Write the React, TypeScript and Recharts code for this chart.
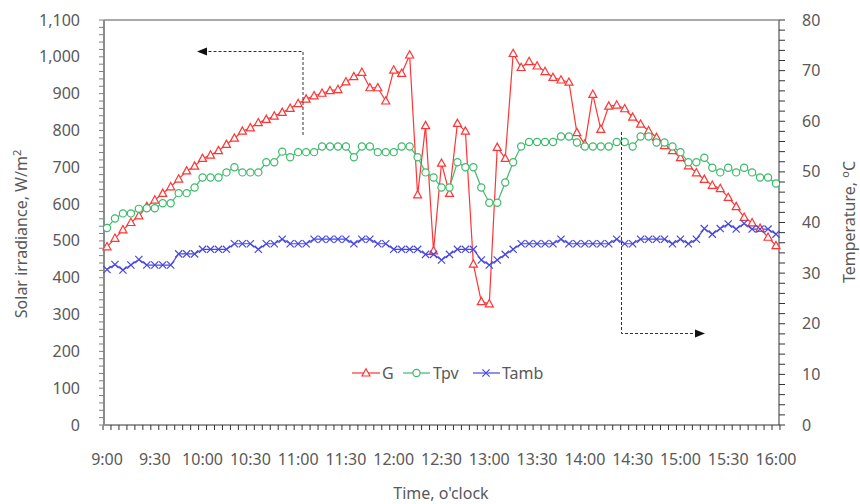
import React from 'react';
import { LineChart, Line, XAxis, YAxis } from 'recharts';

const times = [
  '9:00', '9:05', '9:10', '9:15', '9:20', '9:25', '9:30', '9:35', '9:40', '9:45', '9:50', '9:55',
  '10:00', '10:05', '10:10', '10:15', '10:20', '10:25', '10:30', '10:35', '10:40', '10:45', '10:50', '10:55',
  '11:00', '11:05', '11:10', '11:15', '11:20', '11:25', '11:30', '11:35', '11:40', '11:45', '11:50', '11:55',
  '12:00', '12:05', '12:10', '12:15', '12:20', '12:25', '12:30', '12:35', '12:40', '12:45', '12:50', '12:55',
  '13:00', '13:05', '13:10', '13:15', '13:20', '13:25', '13:30', '13:35', '13:40', '13:45', '13:50', '13:55',
  '14:00', '14:05', '14:10', '14:15', '14:20', '14:25', '14:30', '14:35', '14:40', '14:45', '14:50', '14:55',
  '15:00', '15:05', '15:10', '15:15', '15:20', '15:25', '15:30', '15:35', '15:40', '15:45', '15:50', '15:55',
  '16:00',
];

const gValues = [
  484, 507, 530, 550, 568, 593, 611, 629, 647, 668, 690, 703,
  724, 733, 745, 762, 779, 798, 807, 821, 830, 839, 849, 860,
  873, 885, 894, 901, 908, 911, 932, 946, 958, 916, 916, 880,
  964, 955, 1005, 625, 813, 473, 711, 629, 819, 798, 437, 335,
  329, 754, 724, 1009, 971, 987, 975, 960, 944, 937, 931, 794,
  763, 898, 803, 866, 869, 859, 836, 817, 799, 781, 759, 745,
  726, 704, 685, 667, 651, 642, 618, 593, 564, 549, 534, 510,
  487,
];

const tpvValues = [
  38.9, 40.8, 41.8, 41.8, 42.7, 42.8, 42.8, 43.8, 43.8, 45.8, 45.8, 46.9,
  48.9, 48.9, 48.9, 49.9, 50.9, 49.9, 49.9, 49.9, 51.9, 51.9, 54.0, 52.9,
  53.9, 53.9, 53.9, 55.0, 55.0, 55.0, 55.0, 52.9, 55.0, 55.0, 53.9, 53.9,
  53.9, 55.0, 55.0, 52.9, 49.9, 48.9, 46.9, 46.9, 51.9, 50.9, 50.9, 46.9,
  43.9, 43.9, 47.9, 51.9, 55.0, 55.9, 55.9, 55.9, 55.9, 57.0, 57.0, 55.8,
  55.0, 55.0, 55.0, 55.0, 55.9, 55.9, 55.0, 57.0, 57.0, 55.8, 55.8, 55.0,
  53.9, 51.9, 51.9, 52.8, 50.8, 49.9, 50.8, 49.9, 50.8, 49.9, 48.9, 48.9,
  47.7,
];

const tambValues = [
  30.7, 31.7, 30.6, 31.6, 32.7, 31.6, 31.6, 31.6, 31.6, 33.8, 33.8, 33.8,
  34.7, 34.7, 34.7, 34.7, 35.8, 35.8, 35.8, 34.7, 35.8, 35.8, 36.7, 35.8,
  35.8, 35.8, 36.7, 36.7, 36.7, 36.7, 36.7, 35.8, 36.7, 36.7, 35.8, 35.8,
  34.7, 34.7, 34.7, 34.7, 33.7, 33.7, 32.6, 33.7, 34.7, 34.7, 34.7, 32.6,
  31.6, 32.6, 33.7, 34.7, 35.8, 35.8, 35.8, 35.8, 35.8, 36.7, 35.8, 35.8,
  35.8, 35.8, 35.8, 35.8, 36.7, 35.8, 35.8, 36.7, 36.7, 36.7, 36.7, 35.8,
  36.7, 35.8, 36.7, 38.8, 37.7, 38.8, 39.7, 38.7, 39.8, 38.7, 38.7, 38.7,
  37.7,
];

const leftMajorTicks = [0, 100, 200, 300, 400, 500, 600, 700, 800, 900, 1000, 1100];
const rightMajorTicks = [0, 10, 20, 30, 40, 50, 60, 70, 80];
const xLabelEvery = 6;

const leftAllTicks = Array.from({ length: 56 }, (_, i) => i * 20);
const rightAllTicks = Array.from({ length: 41 }, (_, i) => i * 2);

const data = times.map((t, i) => ({ time: t, G: gValues[i], Tpv: tpvValues[i], Tamb: tambValues[i] }));

const W = 860;
const H = 504;
const PLOT_LEFT = 104;
const PLOT_RIGHT = 779;
const PLOT_TOP = 20;
const PLOT_BOTTOM = 425;

const G_COLOR = '#FF3535';
const TPV_COLOR = '#3DBB6C';
const TAMB_COLOR = '#4848E0';
const TEXT = '#595959';
const FONT = '"Noto Sans", sans-serif';

const triangle = (cx: number, cy: number, color: string, key: string) => (
  <polygon
    key={key}
    points={`${cx},${cy - 4.3} ${cx - 4},${cy + 3} ${cx + 4},${cy + 3}`}
    fill="#fff"
    stroke={color}
    strokeWidth={1.2}
  />
);
const circle = (cx: number, cy: number, color: string, key: string) => (
  <circle key={key} cx={cx} cy={cy} r={3.6} fill="#fff" stroke={color} strokeWidth={1.2} />
);
const cross = (cx: number, cy: number, color: string, key: string) => (
  <path key={key} d={`M${cx - 3.6},${cy - 3.6}L${cx + 3.6},${cy + 3.6}M${cx - 3.6},${cy + 3.6}L${cx + 3.6},${cy - 3.6}`} stroke={color} strokeWidth={1.2} fill="none" />
);

const GDot = (p: any) => (p.cx == null ? <g key={`g${p.index}`} /> : triangle(p.cx, p.cy, G_COLOR, `g${p.index}`));
const TpvDot = (p: any) => (p.cx == null ? <g key={`t${p.index}`} /> : circle(p.cx, p.cy, TPV_COLOR, `t${p.index}`));
const TambDot = (p: any) => (p.cx == null ? <g key={`a${p.index}`} /> : cross(p.cx, p.cy, TAMB_COLOR, `a${p.index}`));

const LeftTick = (p: any) => {
  const v = p.payload.value;
  const y = p.y;
  const major = v % 100 === 0;
  return (
    <g>
      <line x1={PLOT_LEFT - 5} x2={PLOT_LEFT} y1={y} y2={y} stroke="#7f7f7f" strokeWidth={1} />
      {major && (
        <text x={80} y={y + 5.5} textAnchor="end" fill={TEXT} fontSize={16} fontFamily={FONT}>
          {v.toLocaleString('en-US')}
        </text>
      )}
    </g>
  );
};

const RightTick = (p: any) => {
  const v = p.payload.value;
  const y = p.y;
  const major = rightMajorTicks.includes(v);
  return (
    <g>
      <line x1={PLOT_RIGHT} x2={PLOT_RIGHT + 6} y1={y} y2={y} stroke="#333" strokeWidth={1} />
      {major && (
        <text x={802} y={y + 5.5} textAnchor="start" fill={TEXT} fontSize={16} fontFamily={FONT}>
          {v}
        </text>
      )}
    </g>
  );
};

const XTick = (p: any) => {
  const idx = times.indexOf(p.payload.value);
  const x = p.x;
  const half = 3.98;
  return (
    <g>
      <line x1={x - half} x2={x - half} y1={PLOT_BOTTOM} y2={PLOT_BOTTOM + 5} stroke="#333" strokeWidth={1} />
      {idx === times.length - 1 && (
        <line x1={x + half} x2={x + half} y1={PLOT_BOTTOM} y2={PLOT_BOTTOM + 5} stroke="#333" strokeWidth={1} />
      )}
      {idx % xLabelEvery === 0 && (
        <text x={x} y={465} textAnchor="middle" fill={TEXT} fontSize={16} fontFamily={FONT}>
          {p.payload.value}
        </text>
      )}
    </g>
  );
};

const Overlay = () => (
  <svg width={W} height={H} style={{ position: 'absolute', left: 0, top: 0, pointerEvents: 'none' }}>
    <line x1={PLOT_LEFT} x2={PLOT_RIGHT} y1={PLOT_TOP} y2={PLOT_TOP} stroke="#8c8c8c" strokeWidth={1.5} />
    {/* annotation arrows */}
    <path d="M303,135 L303,51.5 L206,51.5" fill="none" stroke="#333" strokeWidth={1} strokeDasharray="3,2" />
    <polygon points="197,51.5 207,47.5 207,55.5" fill="#111" />
    <path d="M621.5,132 L621.5,333.5 L696,333.5" fill="none" stroke="#333" strokeWidth={1} strokeDasharray="3,2" />
    <polygon points="705,333.5 695,329.5 695,337.5" fill="#111" />
    {/* axis titles */}
    <text x={27} y={234} transform="rotate(-90 27 234)" textAnchor="middle" fill={TEXT} fontSize={16} fontFamily={FONT}>
      Solar irradiance, W/m<tspan dy={-6} fontSize={11}>2</tspan>
    </text>
    <text x={855} y={222} transform="rotate(-90 855 222)" textAnchor="middle" fill={TEXT} fontSize={16} fontFamily={FONT}>
      Temperature, <tspan dy={-6} fontSize={11}>o</tspan><tspan dy={6}>C</tspan>
    </text>
    <text x={441} y={499} textAnchor="middle" fill={TEXT} fontSize={16} fontFamily={FONT}>
      Time, o'clock
    </text>
    {/* legend */}
    <line x1={352} x2={380} y1={373} y2={373} stroke={G_COLOR} strokeWidth={1.2} />
    {triangle(366, 373, G_COLOR, 'lg')}
    <text x={382} y={379} fill={TEXT} fontSize={16} fontFamily={FONT}>G</text>
    <line x1={403} x2={430} y1={373} y2={373} stroke={TPV_COLOR} strokeWidth={1.2} />
    {circle(416.5, 373, TPV_COLOR, 'lt')}
    <text x={433} y={379} fill={TEXT} fontSize={16} fontFamily={FONT}>Tpv</text>
    <line x1={473} x2={500} y1={373} y2={373} stroke={TAMB_COLOR} strokeWidth={1.2} />
    {cross(486, 373, TAMB_COLOR, 'la')}
    <text x={502} y={379} fill={TEXT} fontSize={16} fontFamily={FONT}>Tamb</text>
  </svg>
);

export default function App() {
  return (
    <div style={{ position: 'absolute', left: 0, top: 0, width: W, height: H, background: '#fff' }}>
      <LineChart width={W} height={H} data={data} margin={{ top: PLOT_TOP, right: 0, bottom: 0, left: 0 }}>
        <XAxis
          dataKey="time"
          type="category"
          interval={0}
          height={H - PLOT_BOTTOM}
          padding={{ left: 3, right: 3 }}
          axisLine={{ stroke: '#333', strokeWidth: 1 }}
          tickLine={false}
          tickSize={0}
          tick={<XTick />}
        />
        <YAxis
          yAxisId="left"
          orientation="left"
          width={PLOT_LEFT}
          domain={[0, 1100]}
          ticks={leftAllTicks}
          interval={0}
          axisLine={{ stroke: '#8c8c8c', strokeWidth: 2 }}
          tickLine={false}
          tickSize={0}
          tick={<LeftTick />}
        />
        <YAxis
          yAxisId="right"
          orientation="right"
          width={W - PLOT_RIGHT}
          domain={[0, 80]}
          ticks={rightAllTicks}
          interval={0}
          axisLine={{ stroke: '#333', strokeWidth: 1 }}
          tickLine={false}
          tickSize={0}
          tick={<RightTick />}
        />
        <Line yAxisId="left" dataKey="G" type="linear" stroke={G_COLOR} strokeWidth={1.2} dot={GDot} activeDot={false} isAnimationActive={false} />
        <Line yAxisId="right" dataKey="Tpv" type="linear" stroke={TPV_COLOR} strokeWidth={1.2} dot={TpvDot} activeDot={false} isAnimationActive={false} />
        <Line yAxisId="right" dataKey="Tamb" type="linear" stroke={TAMB_COLOR} strokeWidth={1.2} dot={TambDot} activeDot={false} isAnimationActive={false} />
      </LineChart>
      <Overlay />
    </div>
  );
}
